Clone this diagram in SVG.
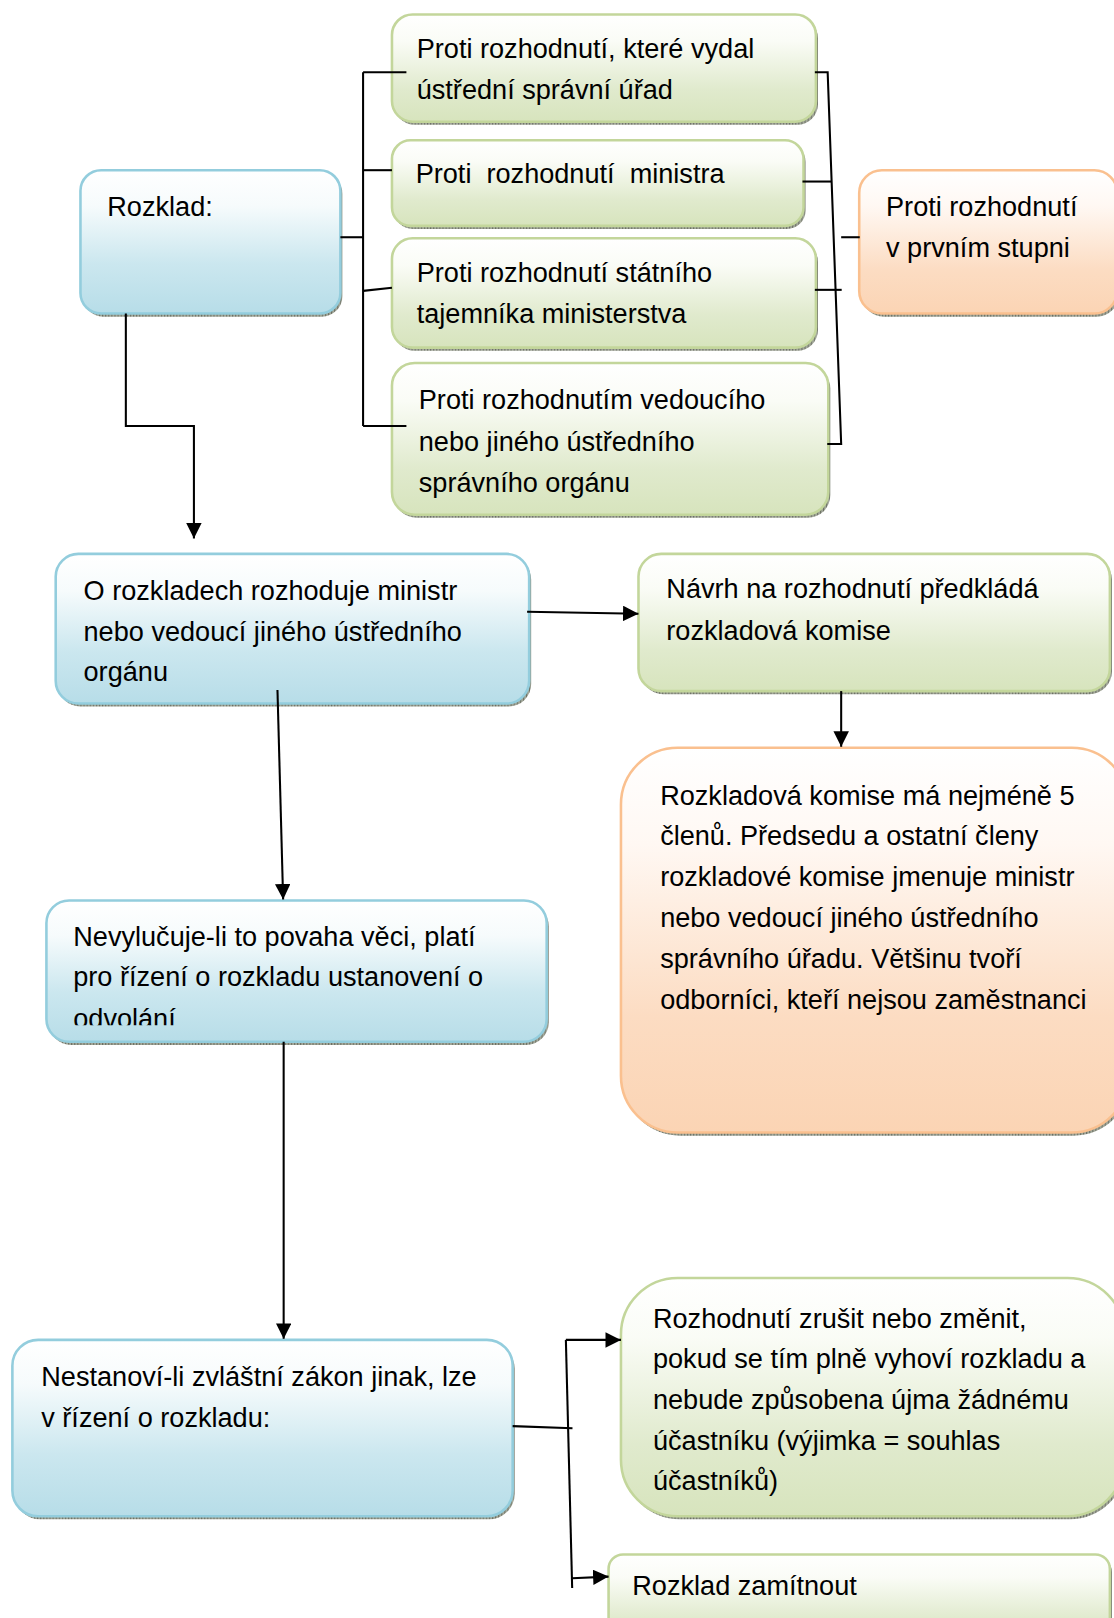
<svg xmlns="http://www.w3.org/2000/svg" width="1114" height="1618" viewBox="0 0 1114 1618">
  <defs>
    <style>
      .t { font-family: "Liberation Sans", Arial, sans-serif; font-size: 26.3px; fill: #000; }
      .pre { white-space: pre; }
      .green { fill: url(#gGreen); stroke: #c3d69b; stroke-width: 2.5; }
      .blue { fill: url(#gBlue); stroke: #93cddd; stroke-width: 2.5; }
      .orange { fill: url(#gOrange); stroke: #fac08f; stroke-width: 2.5; }
      .shadow { fill: url(#hatch); }
      .ln { fill: none; stroke: #000; stroke-width: 2; }
      .arr { fill: none; stroke: #000; stroke-width: 2; marker-end: url(#ah); }
    </style>
    <linearGradient id="gGreen" x1="0" y1="0" x2="0" y2="1">
      <stop offset="0" stop-color="#ffffff"/>
      <stop offset="0.25" stop-color="#fafcf6"/>
      <stop offset="0.7" stop-color="#e0eacd"/>
      <stop offset="1" stop-color="#d7e4bd"/>
    </linearGradient>
    <linearGradient id="gBlue" x1="0" y1="0" x2="0" y2="1">
      <stop offset="0" stop-color="#ffffff"/>
      <stop offset="0.25" stop-color="#f6fbfc"/>
      <stop offset="0.65" stop-color="#cbe7ef"/>
      <stop offset="1" stop-color="#b7dde8"/>
    </linearGradient>
    <linearGradient id="gOrange" x1="0" y1="0" x2="0" y2="1">
      <stop offset="0" stop-color="#ffffff"/>
      <stop offset="0.25" stop-color="#fff8f3"/>
      <stop offset="0.7" stop-color="#fcdcc2"/>
      <stop offset="1" stop-color="#fbd4b4"/>
    </linearGradient>
    <pattern id="hatch" width="3" height="4" patternUnits="userSpaceOnUse">
      <rect width="3" height="4" fill="#a3a89a"/>
      <rect width="1" height="4" fill="#6b6f63"/>
    </pattern>
    <marker id="ah" markerUnits="userSpaceOnUse" markerWidth="15" markerHeight="15" refX="15" refY="7.5" orient="auto">
      <path d="M0,0 L15,7.5 L0,15 Z" fill="#000"/>
    </marker>
    <clipPath id="clipB3">
      <rect x="40" y="870" width="500" height="124"/>
    </clipPath>
  </defs>

  <rect width="1114" height="1618" fill="#ffffff"/>

  <g transform="scale(1.03148)">
    <g id="node-rozklad">
      <rect class="shadow" x="80" y="168" width="252" height="139" rx="20"/>
      <rect class="blue" x="78" y="165" width="252" height="139" rx="20"/>
      <text class="t" x="104" y="209">Rozklad:</text>
    </g>

    <g id="node-ustredni">
      <rect class="shadow" x="382" y="17" width="411" height="104" rx="20"/>
      <rect class="green" x="380" y="14" width="411" height="104" rx="20"/>
      <text class="t" x="404" y="56">Proti rozhodnutí, které vydal</text>
      <text class="t" x="404" y="96">ústřední správní úřad</text>
    </g>

    <g id="node-ministr">
      <rect class="shadow" x="382" y="139" width="399" height="83" rx="18"/>
      <rect class="green" x="380" y="136" width="399" height="83" rx="18"/>
      <text class="t pre" x="403" y="177" xml:space="preserve">Proti  rozhodnutí  ministra</text>
    </g>

    <g id="node-tajemnik">
      <rect class="shadow" x="382" y="234" width="411" height="106" rx="20"/>
      <rect class="green" x="380" y="231" width="411" height="106" rx="20"/>
      <text class="t" x="404" y="273">Proti rozhodnutí státního</text>
      <text class="t" x="404" y="313">tajemníka ministerstva</text>
    </g>

    <g id="node-vedouci">
      <rect class="shadow" x="382" y="355" width="423" height="147" rx="22"/>
      <rect class="green" x="380" y="352" width="423" height="147" rx="22"/>
      <text class="t" x="406" y="397">Proti rozhodnutím vedoucího</text>
      <text class="t" x="406" y="437">nebo jiného ústředního</text>
      <text class="t" x="406" y="477">správního orgánu</text>
    </g>

    <g id="node-prvni-stupen">
      <rect class="shadow" x="835" y="168" width="250" height="139" rx="22"/>
      <rect class="orange" x="833" y="165" width="250" height="139" rx="22"/>
      <text class="t" x="859" y="209">Proti rozhodnutí</text>
      <text class="t" x="859" y="249">v prvním stupni</text>
    </g>

    <g id="node-rozhoduje">
      <rect class="shadow" x="56" y="540" width="459" height="145" rx="22"/>
      <rect class="blue" x="54" y="537" width="459" height="145" rx="22"/>
      <text class="t" x="81" y="582">O rozkladech rozhoduje ministr</text>
      <text class="t" x="81" y="621">nebo vedoucí jiného ústředního</text>
      <text class="t" x="81" y="660">orgánu</text>
    </g>

    <g id="node-navrh">
      <rect class="shadow" x="621" y="540" width="457" height="133" rx="22"/>
      <rect class="green" x="619" y="537" width="457" height="133" rx="22"/>
      <text class="t" x="646" y="580">Návrh na rozhodnutí předkládá</text>
      <text class="t" x="646" y="620">rozkladová komise</text>
    </g>

    <g id="node-komise">
      <rect class="shadow" x="604" y="728" width="492" height="373" rx="55"/>
      <rect class="orange" x="602" y="725" width="492" height="373" rx="55"/>
      <text class="t" x="640" y="780">Rozkladová komise má nejméně 5</text>
      <text class="t" x="640" y="819">členů. Předsedu a ostatní členy</text>
      <text class="t" x="640" y="859">rozkladové komise jmenuje ministr</text>
      <text class="t" x="640" y="899">nebo vedoucí jiného ústředního</text>
      <text class="t" x="640" y="938">správního úřadu. Většinu tvoří</text>
      <text class="t" x="640" y="978">odborníci, kteří nejsou zaměstnanci</text>
    </g>

    <g id="node-nevylucuje">
      <rect class="shadow" x="47" y="876" width="485" height="137" rx="22"/>
      <rect class="blue" x="45" y="873" width="485" height="137" rx="22"/>
      <g clip-path="url(#clipB3)">
        <text class="t" x="71" y="917">Nevylučuje-li to povaha věci, platí</text>
        <text class="t" x="71" y="956">pro řízení o rozkladu ustanovení o</text>
        <text class="t" x="71" y="997">odvolání</text>
      </g>
    </g>

    <g id="node-nestanovi">
      <rect class="shadow" x="14" y="1302" width="485" height="171" rx="25"/>
      <rect class="blue" x="12" y="1299" width="485" height="171" rx="25"/>
      <text class="t" x="40" y="1344">Nestanoví-li zvláštní zákon jinak, lze</text>
      <text class="t" x="40" y="1383">v řízení o rozkladu:</text>
    </g>

    <g id="node-zrusit">
      <rect class="shadow" x="604" y="1242" width="488" height="231" rx="55"/>
      <rect class="green" x="602" y="1239" width="488" height="231" rx="55"/>
      <text class="t" x="633" y="1287">Rozhodnutí zrušit nebo změnit,</text>
      <text class="t" x="633" y="1326">pokud se tím plně vyhoví rozkladu a</text>
      <text class="t" x="633" y="1366">nebude způsobena újma žádnému</text>
      <text class="t" x="633" y="1406">účastníku (výjimka = souhlas</text>
      <text class="t" x="633" y="1445">účastníků)</text>
    </g>

    <g id="node-zamitnout">
      <rect class="shadow" x="592" y="1510" width="486" height="90" rx="14"/>
      <rect class="green" x="590" y="1507" width="486" height="90" rx="14"/>
      <text class="t" x="613" y="1546">Rozklad zamítnout</text>
    </g>

    <g id="connectors">
      <path class="ln" d="M330,230 H352"/>
      <path class="ln" d="M352,70 V413"/>
      <path class="ln" d="M352,70 H394"/>
      <path class="ln" d="M352,165 H380"/>
      <path class="ln" d="M352,282 L380,279"/>
      <path class="ln" d="M352,413 H394"/>
      <path class="ln" d="M790,70 H802.4 L815.5,430.5 H802"/>
      <path class="ln" d="M778,176 H806"/>
      <path class="ln" d="M790,281 H816"/>
      <path class="ln" d="M815.5,230 H833.5"/>
      <path class="arr" d="M122,304 V413 H188 V522"/>
      <path class="arr" d="M511,593 L619,595"/>
      <path class="arr" d="M815.5,670 V724"/>
      <path class="arr" d="M269,669 L274.5,872"/>
      <path class="arr" d="M275,1010 V1298"/>
      <path class="ln" d="M497,1382.6 L555,1384.7"/>
      <path class="ln" d="M548.6,1299 L554.7,1539.6"/>
      <path class="arr" d="M548.6,1299 H602"/>
      <path class="arr" d="M554.7,1530 L590,1528.5"/>
    </g>
  </g>
</svg>
